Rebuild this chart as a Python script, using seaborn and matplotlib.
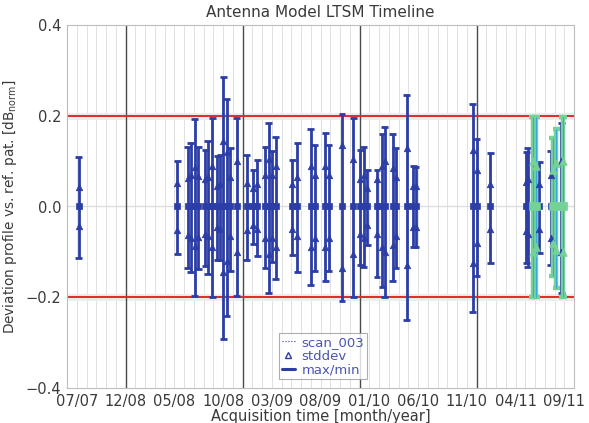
import numpy as np
import pandas as pd
import matplotlib
matplotlib.use("Agg")
import matplotlib.pyplot as plt
import seaborn as sns
from matplotlib.lines import Line2D

# ---- data (x in months since Jan 2007) ----
blue_month = [6.2, 16.3, 17.4, 17.7, 18.1, 18.45, 19.2, 19.45, 19.9, 20.4, 20.7, 21.05, 21.4, 21.75,
              22.4, 23.45, 24.1, 24.5, 25.3, 25.7, 26.0, 26.4, 28.1, 28.6, 30.0, 30.4, 31.5, 31.85,
              33.2, 34.35, 35.1, 35.45, 35.8, 36.8, 37.35, 37.6, 38.4, 38.7, 39.85, 40.5, 40.8,
              46.6, 47.0, 48.4, 52.1, 52.25, 53.45, 54.6, 55.7]
blue_max = [0.108, 0.100, 0.131, 0.140, 0.192, 0.131, 0.124, 0.144, 0.195, 0.111, 0.113, 0.286, 0.236, 0.128,
            0.194, 0.113, 0.080, 0.102, 0.131, 0.185, 0.122, 0.153, 0.102, 0.141, 0.170, 0.135, 0.161, 0.135,
            0.204, 0.196, 0.124, 0.131, 0.080, 0.080, 0.160, 0.175, 0.160, 0.130, 0.245, 0.090, 0.088,
            0.226, 0.148, 0.119, 0.120, 0.128, 0.098, 0.122, 0.183]
blue_min = [-0.113, -0.105, -0.136, -0.145, -0.198, -0.138, -0.131, -0.149, -0.200, -0.119, -0.119, -0.292, -0.241, -0.142,
            -0.198, -0.118, -0.083, -0.108, -0.136, -0.190, -0.123, -0.160, -0.107, -0.145, -0.173, -0.142, -0.165, -0.143,
            -0.208, -0.200, -0.128, -0.134, -0.084, -0.155, -0.178, -0.200, -0.165, -0.135, -0.250, -0.090, -0.090,
            -0.232, -0.153, -0.124, -0.125, -0.134, -0.102, -0.128, -0.190]
blue_std = [0.043, 0.052, 0.063, 0.070, 0.088, 0.067, 0.060, 0.065, 0.090, 0.045, 0.050, 0.145, 0.120, 0.065,
            0.100, 0.052, 0.040, 0.050, 0.070, 0.105, 0.070, 0.090, 0.050, 0.066, 0.090, 0.070, 0.090, 0.070,
            0.135, 0.105, 0.060, 0.070, 0.040, 0.060, 0.090, 0.100, 0.085, 0.065, 0.130, 0.045, 0.045,
            0.124, 0.080, 0.050, 0.055, 0.060, 0.050, 0.070, 0.100]

green_month = [52.8, 53.1, 54.85, 55.2, 55.85]
green_max = [0.198, 0.198, 0.150, 0.170, 0.198]
green_min = [-0.200, -0.200, -0.153, -0.180, -0.200]
green_std = [0.100, 0.090, 0.080, 0.095, 0.100]

tick_months = [6, 11, 16, 21, 26, 31, 36, 41, 46, 51, 56]
tick_labels = ["07/07", "12/08", "05/08", "10/08", "03/09", "08/09",
               "01/10", "06/10", "11/10", "04/11", "09/11"]
year_lines = [11, 23, 35, 47]
limit_lines = [0.2, -0.2]

BLUE = "#2c3ea6"
GREEN = "#74d296"
CYAN = "#39a8e0"
TXT = "#3a3a3a"

sns.set_theme(style="white")
plt.rcParams['font.family'] = ['DejaVu Sans']

fig = plt.figure(figsize=(5.89, 4.23), dpi=100)
ax = fig.add_axes([67/589, 1-388/423, (574-67)/589, (388-25)/423])

ax.set_xlim(5, 57)
ax.set_ylim(-0.4, 0.4)

# grids
for m in range(5, 58):
    ax.axvline(m, color="#dcdcdc", lw=0.6, zorder=0)
for m in year_lines:
    ax.axvline(m, color="#4a4a4a", lw=1.0, zorder=1)
ax.axhline(0, color="#dddddd", lw=1.0, zorder=0)
for y in limit_lines:
    ax.axhline(y, color="#ececec", lw=5, zorder=0)
    ax.axhline(y, color="#e02a2a", lw=1.4, zorder=2)

def draw(months, vmax, vmin, std, color, lw=2.0, cap=0.35, inner=None, ms=22):
    df = pd.DataFrame({"m": months, "mx": vmax, "mn": vmin, "sd": std})
    ax.vlines(df["m"], df["mn"], df["mx"], color=color, lw=lw, zorder=3)
    ax.hlines(df["mx"], df["m"] - cap, df["m"] + cap, color=color, lw=lw, zorder=3)
    ax.hlines(df["mn"], df["m"] - cap, df["m"] + cap, color=color, lw=lw, zorder=3)
    if inner is not None:
        ax.vlines(df["m"], df["mn"], df["mx"], color=inner, lw=0.8, zorder=4)
    pts = pd.DataFrame({"m": list(df["m"]) * 2, "v": list(df["sd"]) + list(-df["sd"])})
    sns.scatterplot(data=pts, x="m", y="v", marker="^", s=ms, color=color,
                    edgecolor=color, linewidth=0.5, ax=ax, zorder=5, legend=False)
    ctr = pd.DataFrame({"m": df["m"], "v": np.zeros(len(df))})
    sns.scatterplot(data=ctr, x="m", y="v", marker="s", s=ms, color=color,
                    edgecolor=color, linewidth=0.5, ax=ax, zorder=5, legend=False)

draw(blue_month, blue_max, blue_min, blue_std, BLUE)
draw(green_month, green_max, green_min, green_std, GREEN, lw=3.2, cap=0.4, inner=CYAN, ms=30)

ax.set_xticks(tick_months)
ax.set_xticklabels(tick_labels)
ax.set_yticks([-0.4, -0.2, 0.0, 0.2, 0.4])
ax.set_yticklabels(["\u22120.4", "\u22120.2", "0.0", "0.2", "0.4"])
ax.tick_params(axis="both", labelsize=10.5, colors=TXT, length=0, pad=4)
for s in ax.spines.values():
    s.set_color("#bdbdbd")
    s.set_linewidth(0.8)

ax.set_title("Antenna Model LTSM Timeline", fontsize=11, color=TXT, pad=6)
ax.set_xlabel("Acquisition time [month/year]", fontsize=10.5, color=TXT, labelpad=0)
ax.set_ylabel("Deviation profile vs. ref. pat. [dB$_{\\mathrm{norm}}$]", fontsize=9.8, color=TXT, labelpad=5)

handles = [Line2D([], [], color=BLUE, ls=":", lw=0.8),
           Line2D([], [], color=BLUE, ls="none", marker="^", markersize=4, markerfacecolor="none"),
           Line2D([], [], color=BLUE, lw=2.2)]
leg = ax.legend(handles, ["scan_003", "stddev", "max/min"], loc="lower left",
                bbox_to_anchor=(0.418, 0.025), fontsize=9.5, frameon=True, fancybox=False,
                handlelength=1.0, handletextpad=0.5, borderpad=0.2, labelspacing=0.05,
                borderaxespad=0)
leg.get_frame().set_edgecolor("#9a9a9a")
leg.get_frame().set_linewidth(0.8)
for t in leg.get_texts():
    t.set_color("#4a55b0")

fig.savefig("out.png", dpi=100)
